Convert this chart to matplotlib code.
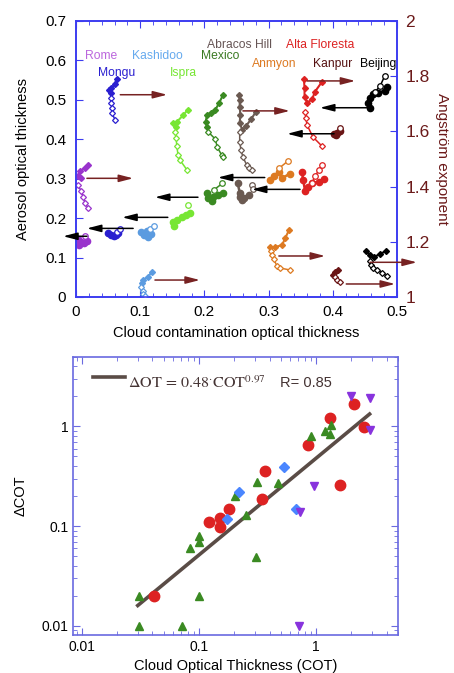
import numpy as np
import matplotlib
matplotlib.use('agg')
import matplotlib.pyplot as plt
from matplotlib.ticker import MultipleLocator, FuncFormatter, LogLocator, FixedLocator

plt.rcParams['font.family'] = ['Liberation Sans', 'DejaVu Sans']
plt.rcParams['mathtext.fontset'] = 'stix'

# ---- top panel: per-site traces (COT, value) ----
# filled / open diamonds -> Angstrom exponent (right axis)
# filled / open circles  -> aerosol optical thickness (left axis)
sites = ['Mongu', 'Rome', 'Kashidoo', 'Ispra', 'Mexico', 'Abracos Hill',
         'Anmyon', 'Alta Floresta', 'Kanpur', 'Beijing']
site_colors = ['#2a1fd0', '#9933cc', '#5b9be0', '#77e633', '#3a8a22', '#6b5a52',
               '#dd7a22', '#dd2222', '#6a1515', '#000000']
label_colors = ['#2a1fd0', '#bb66dd', '#66aaee', '#77e633', '#3a7a22', '#665555',
                '#dd7a22', '#dd2222', '#551111', '#000000']
label_pos = [(0.064, 0.569), (0.039, 0.612), (0.126, 0.612), (0.167, 0.569),
             (0.224, 0.612), (0.255, 0.639), (0.308, 0.591), (0.380, 0.639),
             (0.400, 0.591), (0.470, 0.591)]

ae_filled = [
    [(0.064, 1.790), (0.060, 1.770), (0.055, 1.757), (0.051, 1.750), (0.054, 1.740)],
    [(0.019, 1.478), (0.014, 1.467), (0.006, 1.457), (0.003, 1.440), (0.008, 1.431)],
    [(0.118, 1.091), (0.112, 1.072), (0.104, 1.062), (0.103, 1.051)],
    [(0.174, 1.678), (0.167, 1.659), (0.157, 1.634), (0.151, 1.630), (0.156, 1.616)],
    [(0.229, 1.732), (0.223, 1.703), (0.217, 1.678), (0.210, 1.667), (0.204, 1.660),
     (0.202, 1.634), (0.204, 1.616)],
    [(0.254, 1.732), (0.255, 1.712), (0.255, 1.690), (0.256, 1.660), (0.255, 1.632),
     (0.259, 1.605), (0.265, 1.620), (0.273, 1.645), (0.280, 1.670)],
    [(0.332, 1.243), (0.326, 1.214), (0.321, 1.188), (0.310, 1.181), (0.302, 1.181)],
    [(0.355, 1.790), (0.356, 1.757), (0.356, 1.725), (0.360, 1.703), (0.368, 1.717),
     (0.372, 1.743), (0.383, 1.779)],
    [(0.408, 1.098), (0.403, 1.091), (0.400, 1.080)],
    [(0.452, 1.167), (0.458, 1.152), (0.464, 1.145), (0.474, 1.156), (0.483, 1.167)],
]
ae_open = [
    [(0.054, 1.721), (0.055, 1.703), (0.056, 1.685), (0.056, 1.667), (0.061, 1.641)],
    [(0.003, 1.406), (0.008, 1.384), (0.011, 1.362), (0.014, 1.341), (0.019, 1.322)],
    [(0.101, 1.036), (0.104, 1.022), (0.105, 1.011), (0.107, 1.002)],
    [(0.154, 1.598), (0.156, 1.576), (0.157, 1.547), (0.159, 1.514), (0.162, 1.496),
     (0.173, 1.460)],
    [(0.206, 1.598), (0.217, 1.572), (0.220, 1.543), (0.227, 1.514), (0.229, 1.507)],
    [(0.255, 1.598), (0.255, 1.562), (0.257, 1.533), (0.260, 1.507), (0.266, 1.478),
     (0.270, 1.467), (0.274, 1.460)],
    [(0.303, 1.165), (0.305, 1.152), (0.308, 1.138), (0.313, 1.112), (0.318, 1.105),
     (0.333, 1.098)],
    [(0.357, 1.670), (0.358, 1.649), (0.360, 1.623), (0.369, 1.580), (0.383, 1.547)],
    [(0.403, 1.072), (0.407, 1.062), (0.411, 1.054)],
    [(0.458, 1.130), (0.460, 1.116), (0.463, 1.105), (0.469, 1.098), (0.477, 1.087),
     (0.484, 1.076)],
]
aot_filled = [
    [(0.050, 0.162), (0.054, 0.156), (0.059, 0.154), (0.063, 0.158), (0.066, 0.163)],
    [(0.003, 0.147), (0.008, 0.140), (0.012, 0.136), (0.017, 0.142), (0.005, 0.133)],
    [(0.101, 0.165), (0.106, 0.158), (0.112, 0.152), (0.117, 0.160), (0.110, 0.168)],
    [(0.151, 0.190), (0.153, 0.180), (0.158, 0.195), (0.165, 0.203), (0.172, 0.207),
     (0.178, 0.212)],
    [(0.212, 0.244), (0.204, 0.263), (0.206, 0.250), (0.213, 0.253), (0.221, 0.258),
     (0.229, 0.263)],
    [(0.252, 0.288), (0.255, 0.265), (0.255, 0.253), (0.258, 0.245), (0.262, 0.250),
     (0.270, 0.258)],
    [(0.302, 0.296), (0.308, 0.308), (0.316, 0.316), (0.321, 0.301), (0.333, 0.313)],
    [(0.352, 0.316), (0.354, 0.296), (0.357, 0.268), (0.362, 0.280), (0.368, 0.288),
     (0.378, 0.292), (0.387, 0.298)],
    [(0.405, 0.410), (0.402, 0.414), (0.407, 0.417), (0.411, 0.420)],
    [(0.458, 0.480), (0.455, 0.493), (0.458, 0.505), (0.463, 0.516), (0.470, 0.518),
     (0.481, 0.523), (0.484, 0.533)],
]
aot_open = [
    [(0.064, 0.166), (0.068, 0.172)],
    [(0.014, 0.154)],
    [(0.116, 0.173), (0.121, 0.180)],
    [(0.175, 0.233)],
    [(0.215, 0.272), (0.228, 0.288)],
    [(0.274, 0.283), (0.276, 0.273)],
    [(0.316, 0.326), (0.331, 0.346)],
    [(0.368, 0.288), (0.372, 0.308), (0.379, 0.321), (0.383, 0.334)],
    [(0.412, 0.428)],
    [(0.466, 0.520), (0.474, 0.536), (0.481, 0.561)],
]

# arrows: (x_start, x_end, y on the AOT axis)
red_arrows = [(0.069, 0.142, 0.513), (0.017, 0.089, 0.301), (0.123, 0.193, 0.043),
              (0.260, 0.333, 0.472), (0.360, 0.435, 0.548), (0.316, 0.388, 0.104),
              (0.421, 0.497, 0.033), (0.458, 0.531, 0.088)]
black_arrows = [(0.017, -0.020, 0.154), (0.089, 0.017, 0.174), (0.143, 0.072, 0.202),
                (0.190, 0.123, 0.253), (0.294, 0.221, 0.303), (0.349, 0.274, 0.273),
                (0.402, 0.329, 0.414), (0.453, 0.380, 0.480)]

# ---- bottom panel: delta COT vs COT ----
red_x = [2.10, 1.32, 2.55, 0.85, 0.367, 1.60, 0.348, 0.18, 0.151, 0.121, 0.152, 0.041]
red_y = [1.68, 1.21, 0.99, 0.645, 0.36, 0.26, 0.188, 0.149, 0.12, 0.11, 0.099, 0.020]
green_x = [0.906, 1.2, 1.32, 1.34, 0.476, 0.31, 0.203, 0.252, 0.1, 0.1, 0.083, 0.307,
           0.031, 0.1, 0.031, 0.071]
green_y = [0.794, 0.89, 0.845, 1.04, 0.27, 0.28, 0.199, 0.13, 0.080, 0.069, 0.060, 0.049,
           0.0197, 0.0197, 0.0099, 0.0099]
blue_x = [0.53, 0.221, 0.675, 0.173]
blue_y = [0.388, 0.218, 0.149, 0.119]
purple_x = [1.99, 2.86, 2.86, 0.967, 0.734, 0.72]
purple_y = [2.0, 1.93, 0.91, 0.25, 0.14, 0.0100]
fit_coef = 0.48
fit_exp = 0.97
fit_range = (0.03, 2.86)

spine_top = '#3c3cf0'
spine_bot = '#6a6ae0'
darkred = '#6b1a1a'

fig = plt.figure(figsize=(4.54, 6.73), dpi=100)

# ================= top panel =================
ax = fig.add_axes([0.1674, 0.5587, 0.707, 0.4101])
ax.set_xlim(0, 0.5)
ax.set_ylim(0, 0.7)
axr = ax.twinx()
axr.set_ylim(1, 2)

for i in range(len(sites)):
    c = site_colors[i]
    p = np.array(ae_filled[i])
    axr.plot(p[:, 0], p[:, 1], '-D', color=c, ms=3, lw=1.5, mec=c)
    p = np.array(ae_open[i])
    axr.plot(p[:, 0], p[:, 1], '-D', color=c, ms=3, lw=1.1, mfc='white', mec=c, mew=0.9)
    p = np.array(aot_filled[i])
    ax.plot(p[:, 0], p[:, 1], '-o', color=c, ms=4.5, lw=1.8, mec=c)
    p = np.array(aot_open[i])
    ax.plot(p[:, 0], p[:, 1], '-o', color=c, ms=4, lw=1.1, mfc='white', mec=c, mew=0.9)
    ax.text(label_pos[i][0], label_pos[i][1], sites[i], color=label_colors[i],
            fontsize=8.7, ha='center', va='center')

for arrows, col in ((red_arrows, '#772222'), (black_arrows, 'black')):
    for x0, x1, y in arrows:
        axr.annotate('', xy=(x1, 1 + y / 0.7), xytext=(x0, 1 + y / 0.7),
                     arrowprops=dict(arrowstyle='-|>,head_width=0.22,head_length=0.85',
                                     color=col, lw=1.1, shrinkA=0, shrinkB=0),
                     annotation_clip=False)

fmt = FuncFormatter(lambda v, p: '%g' % round(v, 3))
ax.xaxis.set_major_locator(MultipleLocator(0.1))
ax.xaxis.set_minor_locator(MultipleLocator(0.02))
ax.yaxis.set_major_locator(MultipleLocator(0.1))
ax.xaxis.set_major_formatter(fmt)
ax.yaxis.set_major_formatter(fmt)
ax.tick_params(axis='x', which='both', direction='in', top=True, colors=spine_top,
               labelcolor='black', labelsize=11, pad=6)
ax.tick_params(axis='x', which='major', length=5)
ax.tick_params(axis='x', which='minor', length=3)
ax.tick_params(axis='y', which='major', direction='in', length=5, colors=spine_top,
               labelcolor='black', labelsize=11, pad=7)
axr.yaxis.set_major_locator(FixedLocator([1, 1.2, 1.4, 1.6, 1.8, 2]))
axr.yaxis.set_major_formatter(fmt)
axr.tick_params(axis='y', direction='in', length=5, colors=spine_top,
                labelcolor=darkred, labelsize=12.5, pad=6)
for a in (ax, axr):
    for s in a.spines.values():
        s.set_color(spine_top)
        s.set_linewidth(1.2)
ax.set_xlabel('Cloud contamination optical thickness', fontsize=10.5, labelpad=5)
ax.set_ylabel('Aerosol optical thickness', fontsize=10.5, labelpad=11)
axr.set_ylabel('Angström exponent', fontsize=11, color=darkred, rotation=270,
               labelpad=14)

# ================= bottom panel =================
ax2 = fig.add_axes([0.1608, 0.0565, 0.7159, 0.4135])
ax2.set_xscale('log')
ax2.set_yscale('log')
ax2.set_xlim(0.0084, 5)
ax2.set_ylim(0.0081, 5)

fx = np.geomspace(fit_range[0], fit_range[1], 50)
ax2.plot(fx, fit_coef * fx ** fit_exp, color='#5a4c46', lw=2.6, zorder=2)
ax2.plot(red_x, red_y, 'o', color='#dd2222', ms=7.5, mec='#dd2222', zorder=3)
ax2.plot(green_x, green_y, '^', color='#3a8a22', ms=6, zorder=3)
ax2.plot(blue_x, blue_y, 'D', color='#4a86ff', ms=5.5, zorder=3)
ax2.plot(purple_x, purple_y, 'v', color='#8833dd', ms=6, zorder=3)

ax2.plot([0.062, 0.16], [0.927, 0.927], color='#5a4c46', lw=2.6,
         transform=ax2.transAxes)
ax2.text(0.168, 0.905, r'$\Delta\mathrm{OT}\,=\,0.48^{\cdot}\mathrm{COT}^{0.97}$',
         transform=ax2.transAxes, fontsize=11.5, color='#443333', va='center')
ax2.text(0.637, 0.905, 'R= 0.85', transform=ax2.transAxes, fontsize=10.5,
         color='#443333', va='center')

logfmt = FuncFormatter(lambda v, p: '%g' % v)
for axis in (ax2.xaxis, ax2.yaxis):
    axis.set_major_locator(LogLocator(base=10, numticks=10))
    axis.set_minor_locator(LogLocator(base=10, subs=np.arange(2, 10), numticks=10))
    axis.set_major_formatter(logfmt)
    axis.set_minor_formatter(FuncFormatter(lambda v, p: ''))
ax2.tick_params(which='both', direction='in', top=True, right=True, colors=spine_bot,
                labelcolor='black', labelsize=10)
ax2.tick_params(which='major', length=5)
ax2.tick_params(which='minor', length=3)
for s in ax2.spines.values():
    s.set_color(spine_bot)
    s.set_linewidth(1.2)
ax2.set_xlabel('Cloud Optical Thickness (COT)', fontsize=10.5, labelpad=4)
ax2.set_ylabel('ΔCOT', fontsize=10.5, labelpad=10)

fig.savefig('out.png', dpi=100)
